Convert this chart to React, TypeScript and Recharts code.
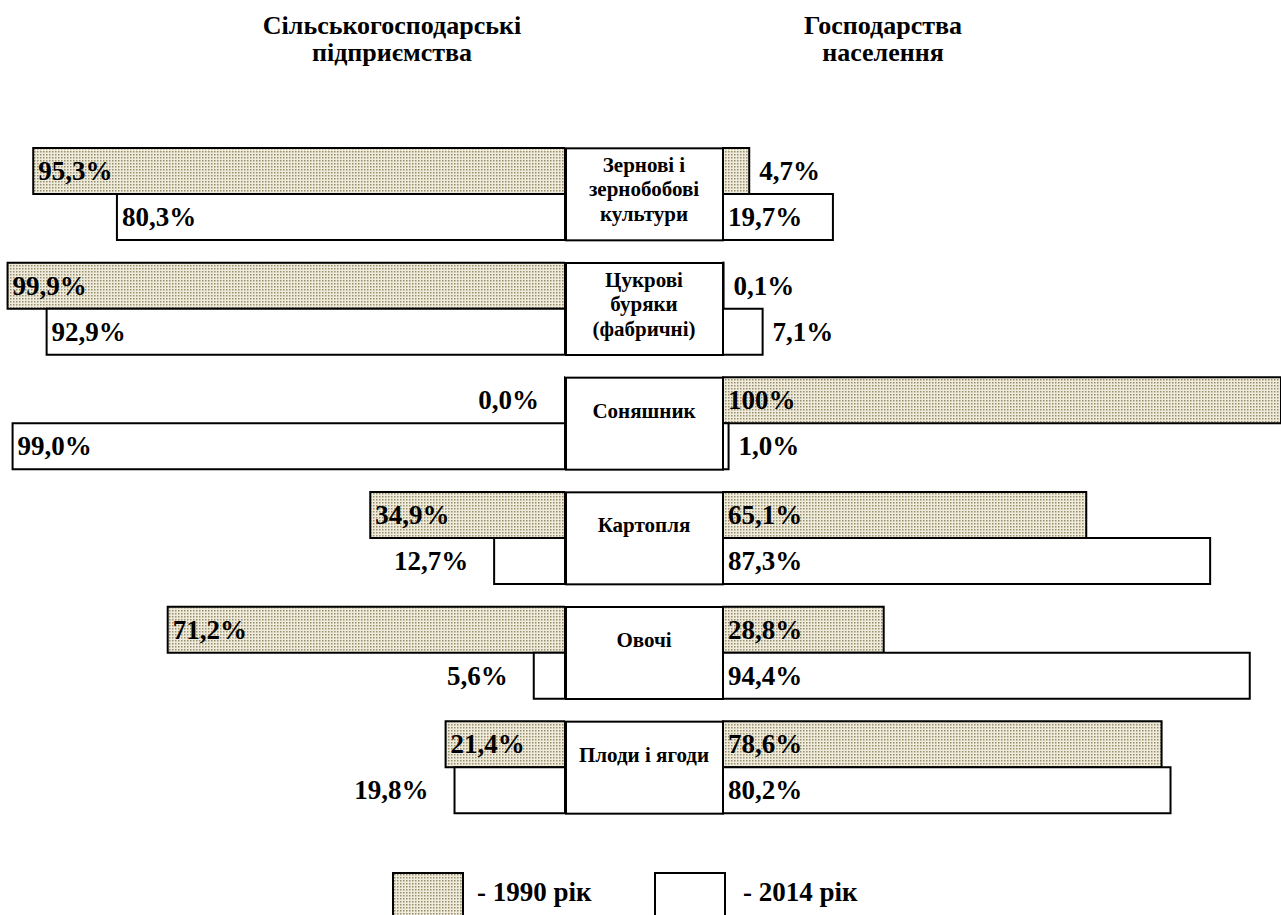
import { Bar, BarChart, LabelList, XAxis, YAxis } from 'recharts';

const categories = [
  'Зернові і|зернобобові|культури',
  'Цукрові|буряки|(фабричні)',
  'Соняшник',
  'Картопля',
  'Овочі',
  'Плоди і ягоди',
];

// Сільськогосподарські підприємства, %
const enterprises1990 = [95.3, 99.9, 0.0, 34.9, 71.2, 21.4];
const enterprises2014 = [80.3, 92.9, 99.0, 12.7, 5.6, 19.8];

// Господарства населення, %
const households1990 = [4.7, 0.1, 100, 65.1, 28.8, 78.6];
const households2014 = [19.7, 7.1, 1.0, 87.3, 94.4, 80.2];

const legendLabels = ['- 1990 рік', '- 2014 рік'];

const chartData = categories.map((name, i) => ({
  name,
  e1990: enterprises1990[i],
  e2014: enterprises2014[i],
  h1990: households1990[i],
  h2014: households2014[i],
}));

const FONT = '"Times New Roman", "Liberation Serif", serif';
const DOTS = 'url(#dots1990)';
const CHART_H = 915;
const MARGIN_TOP = 137;
const MARGIN_BOTTOM = 90;
const BAR_SIZE = 46;
const BOX_W = 158;

function fmt(v: number) {
  if (v === 100) return '100%';
  return v.toFixed(1).replace('.', ',') + '%';
}

interface LabelProps {
  x?: number | string;
  y?: number | string;
  width?: number | string;
  height?: number | string;
  value?: number | string;
}

function makeLabel(side: 'left' | 'right') {
  return (props: LabelProps) => {
    const x = Number(props.x);
    const y = Number(props.y);
    const w = Number(props.width) || 0;
    const h = Number(props.height);
    const v = Number(props.value);
    const x0 = Math.min(x, x + w);
    const x1 = Math.max(x, x + w);
    const cy = y + h / 2 + 9;
    let tx = x0 + 5;
    let anchor: 'start' | 'end' = 'start';
    if (side === 'left' && v <= 20) {
      tx = x0 - 26;
      anchor = 'end';
    }
    if (side === 'right' && v <= 10) {
      tx = x1 + 10;
    }
    return (
      <text
        x={tx}
        y={cy}
        textAnchor={anchor}
        fontFamily={FONT}
        fontWeight="bold"
        fontSize={27}
        fill="#000"
      >
        {fmt(v)}
      </text>
    );
  };
}

interface TickProps {
  x?: number;
  y?: number;
  payload?: { value: string };
}

function CategoryBox({ x = 0, y = 0, payload }: TickProps) {
  const lines = (payload?.value ?? '').split('|');
  const n = lines.length;
  const shift = n === 1 ? -6 : 2;
  return (
    <g>
      <rect
        x={x - BOX_W + 1}
        y={y - BAR_SIZE}
        width={BOX_W - 1}
        height={BAR_SIZE * 2}
        fill="#fff"
        stroke="#000"
        strokeWidth={2}
      />
      {lines.map((line, i) => (
        <text
          key={i}
          x={x - BOX_W / 2}
          y={y + shift + (i - (n - 1) / 2) * 24.5}
          textAnchor="middle"
          fontFamily={FONT}
          fontWeight="bold"
          fontSize={21}
          fill="#000"
        >
          {line}
        </text>
      ))}
    </g>
  );
}

function Titles() {
  const t = { fontFamily: FONT, fontWeight: 'bold' as const, fontSize: 26, fill: '#000' };
  return (
    <svg
      width={1281}
      height={915}
      style={{ position: 'absolute', left: 0, top: 0, pointerEvents: 'none' }}
    >
      <text x={392} y={34} textAnchor="middle" {...t}>Сільськогосподарські</text>
      <text x={392} y={61} textAnchor="middle" {...t}>підприємства</text>
      <text x={883} y={34} textAnchor="middle" {...t}>Господарства</text>
      <text x={883} y={61} textAnchor="middle" {...t}>населення</text>

      <rect x={393} y={873} width={70} height={46} fill={DOTS} stroke="#000" strokeWidth={2} />
      <text x={477} y={901} {...t} fontSize={27}>{legendLabels[0]}</text>
      <rect x={655} y={873} width={70} height={46} fill="#fff" stroke="#000" strokeWidth={2} />
      <text x={743} y={901} {...t} fontSize={27}>{legendLabels[1]}</text>
    </svg>
  );
}

export default function App() {
  return (
    <div
      style={{
        position: 'absolute',
        left: 0,
        top: 0,
        width: 1281,
        height: 915,
        overflow: 'hidden',
        background: '#fff',
      }}
    >
      <svg width={0} height={0} style={{ position: 'absolute' }}>
        <defs>
          <pattern id="dots1990" width={3} height={3} patternUnits="userSpaceOnUse">
            <rect width={3} height={3} fill="#efebdc" />
            <rect x={1} y={1} width={1.5} height={1.5} fill="#978e6a" />
          </pattern>
        </defs>
      </svg>

      <div style={{ position: 'absolute', left: 0, top: 0 }}>
        <BarChart
          width={565}
          height={CHART_H}
          data={chartData}
          layout="vertical"
          margin={{ top: MARGIN_TOP, bottom: MARGIN_BOTTOM, left: 7, right: 0 }}
          barGap={0}
          barSize={BAR_SIZE}
        >
          <XAxis type="number" domain={[0, 100]} reversed hide />
          <YAxis type="category" dataKey="name" hide />
          <Bar
            dataKey="e1990"
            fill={DOTS}
            stroke="#000"
            strokeWidth={2}
            minPointSize={1}
            isAnimationActive={false}
          >
            <LabelList dataKey="e1990" content={makeLabel('left')} />
          </Bar>
          <Bar dataKey="e2014" fill="#fff" stroke="#000" strokeWidth={2} isAnimationActive={false}>
            <LabelList dataKey="e2014" content={makeLabel('left')} />
          </Bar>
        </BarChart>
      </div>

      <div style={{ position: 'absolute', left: 565, top: 0 }}>
        <BarChart
          width={716}
          height={CHART_H}
          data={chartData}
          layout="vertical"
          margin={{ top: MARGIN_TOP, bottom: MARGIN_BOTTOM, left: 0, right: 0 }}
          barGap={0}
          barSize={BAR_SIZE}
        >
          <XAxis type="number" domain={[0, 100]} hide />
          <YAxis
            type="category"
            dataKey="name"
            width={BOX_W}
            axisLine={false}
            tickLine={false}
            tickSize={0}
            tickMargin={0}
            interval={0}
            tick={(p: TickProps) => <CategoryBox {...p} />}
          />
          <Bar dataKey="h1990" fill={DOTS} stroke="#000" strokeWidth={2} isAnimationActive={false}>
            <LabelList dataKey="h1990" content={makeLabel('right')} />
          </Bar>
          <Bar dataKey="h2014" fill="#fff" stroke="#000" strokeWidth={2} isAnimationActive={false}>
            <LabelList dataKey="h2014" content={makeLabel('right')} />
          </Bar>
        </BarChart>
      </div>

      <Titles />
    </div>
  );
}
